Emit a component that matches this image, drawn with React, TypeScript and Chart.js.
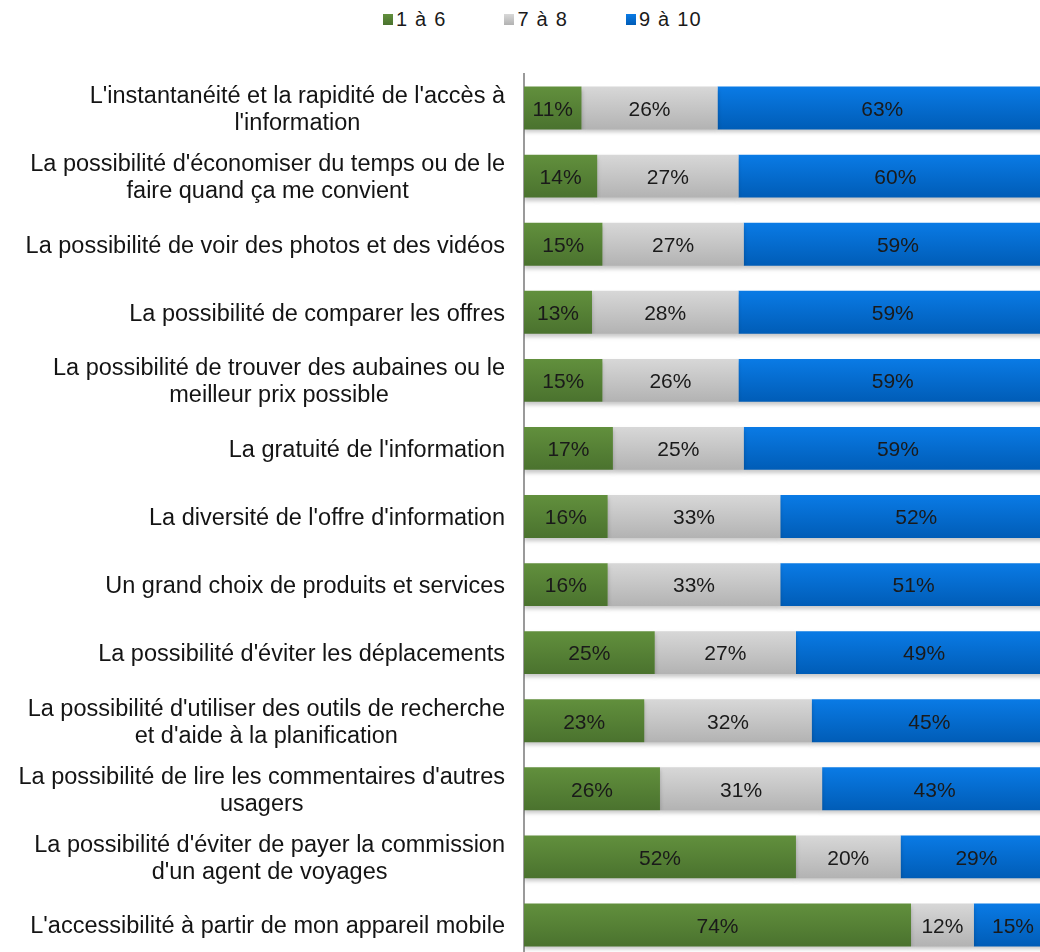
import React, { useEffect, useRef } from "react";
import { Chart, registerables } from "chart.js";

Chart.register(...registerables);

const categories: string[][] = [
  ["L'instantanéité et la rapidité de l'accès à", "l'information"],
  ["La possibilité d'économiser du temps ou de le", "faire quand ça me convient"],
  ["La possibilité de voir des photos et des vidéos"],
  ["La possibilité de comparer les offres"],
  ["La possibilité de trouver des aubaines ou le", "meilleur prix possible"],
  ["La gratuité de l'information"],
  ["La diversité de l'offre d'information"],
  ["Un grand choix de produits et services"],
  ["La possibilité d'éviter les déplacements"],
  ["La possibilité d'utiliser des outils de recherche", "et d'aide à la planification"],
  ["La possibilité de lire les commentaires d'autres", "usagers"],
  ["La possibilité d'éviter de payer la commission", "d'un agent de voyages"],
  ["L'accessibilité à partir de mon appareil mobile"],
];

const seriesNames = ["1 à 6", "7 à 8", "9 à 10"];
const low = [11, 14, 15, 13, 15, 17, 16, 16, 25, 23, 26, 52, 74];
const mid = [26, 27, 27, 28, 26, 25, 33, 33, 27, 32, 31, 20, 12];
const high = [63, 60, 59, 59, 59, 59, 52, 51, 49, 45, 43, 29, 15];

const seriesColors: [string, string][] = [
  ["#62903d", "#4a722e"],
  ["#d8d8d8", "#b2b2b2"],
  ["#0a7be6", "#005cb6"],
];

const FONT = '"Liberation Sans", Arial, sans-serif';

export default function App() {
  const canvasRef = useRef<HTMLCanvasElement | null>(null);

  useEffect(() => {
    const canvas = canvasRef.current;
    if (!canvas) return;

    const values = [low, mid, high];

    const makeBg = (si: number) => (ctx: any) => {
      const chart = ctx.chart;
      const y = chart.scales?.y;
      if (!y || ctx.dataIndex === undefined) return seriesColors[si][0];
      const yc = y.getPixelForValue(ctx.dataIndex);
      if (!Number.isFinite(yc)) return seriesColors[si][0];
      const h = 22;
      const g = chart.ctx.createLinearGradient(0, yc - h, 0, yc + h);
      g.addColorStop(0, seriesColors[si][0]);
      g.addColorStop(1, seriesColors[si][1]);
      return g;
    };

    const shadowPlugin = {
      id: "barShadow",
      beforeDatasetsDraw(chart: any) {
        const c = chart.ctx;
        c.save();
        c.shadowColor = "rgba(0,0,0,0.22)";
        c.shadowBlur = 4;
        c.shadowOffsetX = 0;
        c.shadowOffsetY = 3;
      },
      afterDatasetsDraw(chart: any) {
        chart.ctx.restore();
      },
    };

    const valueLabelPlugin = {
      id: "valueLabels",
      afterDatasetsDraw(chart: any) {
        const c = chart.ctx;
        c.save();
        c.shadowColor = "transparent";
        c.font = `21px ${FONT}`;
        c.fillStyle = "#1a1a1a";
        c.textAlign = "center";
        c.textBaseline = "middle";
        chart.data.datasets.forEach((ds: any, di: number) => {
          const meta = chart.getDatasetMeta(di);
          meta.data.forEach((el: any, i: number) => {
            const { x, base, y } = el.getProps(["x", "base", "y"], true);
            c.fillText(`${ds.data[i]}%`, (x + base) / 2, y + 2);
          });
        });
        c.restore();
      },
    };

    const categoryLabelPlugin = {
      id: "categoryLabels",
      afterDraw(chart: any) {
        const c = chart.ctx;
        const yScale = chart.scales.y;
        const right = chart.chartArea.left - 19;
        c.save();
        c.font = `23.5px ${FONT}`;
        c.fillStyle = "#141414";
        c.textAlign = "center";
        c.textBaseline = "middle";
        const lh = 27;
        categories.forEach((lines, i) => {
          const yc = yScale.getPixelForValue(i) + 2;
          const w = Math.max(...lines.map((l) => c.measureText(l).width));
          const cx = right - w / 2;
          lines.forEach((l, j) => {
            c.fillText(l, cx, yc + (j - (lines.length - 1) / 2) * lh);
          });
        });
        c.restore();
      },
    };

    const chart = new Chart(canvas, {
      type: "bar",
      data: {
        labels: categories.map((l) => l.join(" ")),
        datasets: seriesNames.map((name, si) => ({
          label: name,
          data: values[si],
          backgroundColor: makeBg(si),
          borderWidth: 0,
          categoryPercentage: 1,
          barPercentage: 0.63,
        })),
      },
      options: {
        indexAxis: "y",
        animation: false,
        responsive: false,
        events: [],
        layout: { padding: { top: 74, bottom: 11, left: 0, right: 13 } },
        plugins: {
          legend: { display: false },
          tooltip: { enabled: false },
        },
        scales: {
          x: { stacked: true, min: 0, max: 100, display: false },
          y: {
            stacked: true,
            grid: { display: false },
            border: { display: true, color: "#9a9a9a", width: 2 },
            ticks: { display: false },
            afterFit: (s: any) => {
              s.width = 524;
            },
          },
        },
      },
      plugins: [shadowPlugin, valueLabelPlugin, categoryLabelPlugin],
    } as any);

    return () => chart.destroy();
  }, []);

  return (
    <div
      style={{
        position: "fixed",
        left: 0,
        top: 0,
        width: 1040,
        height: 952,
        overflow: "hidden",
        background: "#ffffff",
      }}
    >
      <div
        style={{
          position: "absolute",
          left: 383,
          top: 8,
          display: "flex",
          alignItems: "center",
          gap: 58,
          fontFamily: FONT,
          fontSize: 20,
          letterSpacing: 1.2,
          color: "#1a1a1a",
          whiteSpace: "nowrap",
        }}
      >
        {seriesNames.map((n, i) => (
          <div key={n} style={{ display: "flex", alignItems: "center" }}>
            <span
              style={{
                display: "inline-block",
                width: 10,
                height: 11,
                marginRight: 3,
                background: `linear-gradient(${seriesColors[i][0]}, ${seriesColors[i][1]})`,
              }}
            />
            <span>{n}</span>
          </div>
        ))}
      </div>
      <canvas
        ref={canvasRef}
        width={1060}
        height={970}
        style={{ position: "absolute", left: 0, top: 0, width: 1060, height: 970 }}
      />
    </div>
  );
}
